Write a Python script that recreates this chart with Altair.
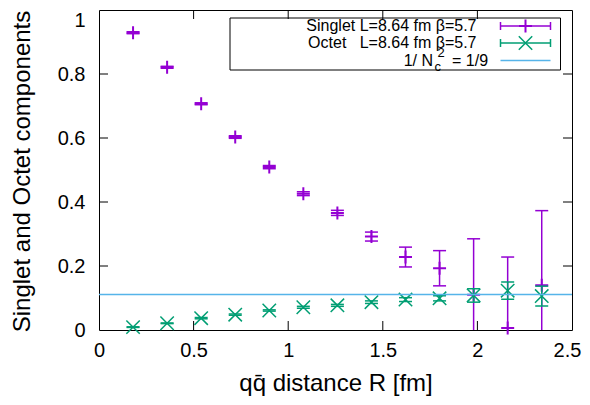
import altair as alt
import pandas as pd

# ---------------- data ----------------
R = [0.18, 0.36, 0.54, 0.72, 0.90, 1.08, 1.26, 1.44, 1.62, 1.80, 1.98, 2.16, 2.34]
singlet = [0.929, 0.821, 0.707, 0.603, 0.509, 0.426, 0.366, 0.292, 0.228, 0.193, 0.11, 0.006, 0.14]
singlet_err = [0.003, 0.003, 0.003, 0.004, 0.005, 0.006, 0.008, 0.014, 0.031, 0.055, 0.175, 0.222, 0.233]
octet = [0.009, 0.021, 0.037, 0.048, 0.061, 0.071, 0.077, 0.087, 0.095, 0.099, 0.108, 0.123, 0.106]
octet_err = [0.001, 0.001, 0.002, 0.002, 0.002, 0.003, 0.003, 0.004, 0.006, 0.008, 0.021, 0.027, 0.031]
x_ticks = [0, 0.5, 1, 1.5, 2, 2.5]
y_ticks = [0, 0.2, 0.4, 0.6, 0.8, 1]
nc_value = 1 / 9

legend_labels = ["Singlet L=8.64 fm \u03b2=5.7", "Octet\u00a0\u00a0 L=8.64 fm \u03b2=5.7"]

# ---------------- style ----------------
FONT = "Liberation Sans"
PURPLE = "#9400D3"
GREEN = "#009E73"
BLUE = "#56B4E9"
W, H = 473, 320
PLUS = "M-1,0L1,0M0,-1L0,1"
CROSS = "M-1,-1L1,1M-1,1L1,-1"

xs = alt.Scale(domain=[0, 2.5], nice=False, zero=False)
ys = alt.Scale(domain=[0, 1], nice=False, zero=False)

df = pd.DataFrame({"R": R, "S": singlet, "Se": singlet_err, "O": octet, "Oe": octet_err})
df["S_lo"] = df["S"] - df["Se"]
df["S_hi"] = df["S"] + df["Se"]
df["O_lo"] = df["O"] - df["Oe"]
df["O_hi"] = df["O"] + df["Oe"]

x_axis = alt.Axis(
    values=x_ticks, format="~g", title="qq\u0304 distance R [fm]",
    titleFont=FONT, titleFontSize=24, titleFontWeight="normal", titleColor="black",
    titleX=W / 2, titleY=60, titleBaseline="alphabetic", titleAlign="center",
    labelFont=FONT, labelFontSize=20, labelColor="black", labelPadding=10,
    labelFlush=False, labelOverlap=False, ticks=False, tickSize=0, domain=False, grid=False,
    labelOffset={"condition": {"test": "datum.value == 2.5", "value": -5}, "value": 0},
)
y_axis = alt.Axis(
    values=y_ticks, format="~g", title="Singlet and Octet components",
    titleFont=FONT, titleFontSize=24, titleFontWeight="normal", titleColor="black",
    titleX=-70, titleY=161, titleBaseline="alphabetic", titleAlign="center",
    labelFont=FONT, labelFontSize=20, labelColor="black", labelPadding=14,
    labelFlush=False, labelOverlap=False, ticks=False, tickSize=0, domain=False, grid=False,
    labelBaseline={"condition": {"test": "datum.value == 1", "value": "top"}, "value": "middle"},
)

base = alt.Chart(df)

# axes carrier (invisible)
axes_layer = base.mark_point(opacity=0).encode(
    x=alt.X("R:Q", scale=xs, axis=x_axis),
    y=alt.Y("S:Q", scale=ys, axis=y_axis),
)


def series(ycol, lo, hi, color, shape, size, sw):
    rule = base.mark_rule(color=color, strokeWidth=1.5, clip=True).encode(
        x=alt.X("R:Q", scale=xs),
        y=alt.Y(f"{lo}:Q", scale=ys),
        y2=f"{hi}:Q",
    )
    cap_lo = base.mark_tick(color=color, orient="horizontal", size=13, thickness=1.5, clip=True, opacity=1).encode(
        x=alt.X("R:Q", scale=xs),
        y=alt.Y(f"{lo}:Q", scale=ys),
    )
    cap_hi = base.mark_tick(color=color, orient="horizontal", size=13, thickness=1.5, clip=True, opacity=1).encode(
        x=alt.X("R:Q", scale=xs),
        y=alt.Y(f"{hi}:Q", scale=ys),
    )
    pts = base.mark_point(shape=shape, size=size, strokeWidth=sw, color=color, filled=False, opacity=1).encode(
        x=alt.X("R:Q", scale=xs),
        y=alt.Y(f"{ycol}:Q", scale=ys),
    )
    return [rule, cap_lo, cap_hi, pts]


singlet_layers = series("S", "S_lo", "S_hi", PURPLE, PLUS, 169, 2)
octet_layers = series("O", "O_lo", "O_hi", GREEN, CROSS, 180, 1.5)

nc_df = pd.DataFrame({"x0": [0.0], "x1": [2.5], "y": [nc_value]})
nc_line = alt.Chart(nc_df).mark_rule(color=BLUE, strokeWidth=1.5).encode(
    x=alt.X("x0:Q", scale=xs), x2="x1:Q",
    y=alt.Y("y:Q", scale=ys),
)

# inward ticks on all four sides
xt = pd.DataFrame({"v": x_ticks[1:-1]})
yt = pd.DataFrame({"v": y_ticks[1:-1]})
TL = 9
tick_layers = [
    alt.Chart(xt).mark_rule(color="black", strokeWidth=1).encode(
        x=alt.X("v:Q", scale=xs), y=alt.value(H), y2=alt.value(H - TL)),
    alt.Chart(xt).mark_rule(color="black", strokeWidth=1).encode(
        x=alt.X("v:Q", scale=xs), y=alt.value(0), y2=alt.value(TL)),
    alt.Chart(yt).mark_rule(color="black", strokeWidth=1).encode(
        y=alt.Y("v:Q", scale=ys), x=alt.value(0), x2=alt.value(TL)),
    alt.Chart(yt).mark_rule(color="black", strokeWidth=1).encode(
        y=alt.Y("v:Q", scale=ys), x=alt.value(W - TL), x2=alt.value(W)),
]

# ---------------- manual key (gnuplot style) ----------------
one = alt.Data(values=[{}])
KX0, KX1, KY0, KY1 = 131, 461.5, 8, 60
ROWS = [16, 33, 50.5]
TXT_R = 377.5
SX0, SX1 = 401.5, 451.5
SXC = (SX0 + SX1) / 2

key = [
    alt.Chart(one).mark_rect(filled=False, stroke="black", strokeWidth=1).encode(
        x=alt.value(KX0), x2=alt.value(KX1), y=alt.value(KY0), y2=alt.value(KY1)),
]
for lbl, yy in zip(legend_labels, ROWS[:2]):
    key.append(alt.Chart(one).mark_text(text=lbl, align="right", baseline="middle", font=FONT,
                                        fontSize=16, color="black").encode(
        x=alt.value(TXT_R), y=alt.value(yy)))

key += [
    alt.Chart(one).mark_text(text="1/ N", align="right", baseline="middle", font=FONT,
                             fontSize=16, color="black").encode(x=alt.value(334), y=alt.value(ROWS[2])),
    alt.Chart(one).mark_text(text="c", align="left", baseline="middle", font=FONT,
                             fontSize=13, color="black").encode(x=alt.value(335.5), y=alt.value(ROWS[2] + 6.5)),
    alt.Chart(one).mark_text(text="2", align="left", baseline="middle", font=FONT,
                             fontSize=13, color="black").encode(x=alt.value(338.5), y=alt.value(ROWS[2] - 7.5)),
    alt.Chart(one).mark_text(text="= 1/9", align="left", baseline="middle", font=FONT,
                             fontSize=16, color="black").encode(x=alt.value(353), y=alt.value(ROWS[2])),
]

for color, yy, shape, size, sw in [(PURPLE, ROWS[0], PLUS, 169, 2), (GREEN, ROWS[1], CROSS, 180, 1.5)]:
    key += [
        alt.Chart(one).mark_rule(color=color, strokeWidth=1.5).encode(
            x=alt.value(SX0), x2=alt.value(SX1), y=alt.value(yy)),
        alt.Chart(one).mark_rule(color=color, strokeWidth=1.5).encode(
            x=alt.value(SX0), y=alt.value(yy - 4), y2=alt.value(yy + 4)),
        alt.Chart(one).mark_rule(color=color, strokeWidth=1.5).encode(
            x=alt.value(SX1), y=alt.value(yy - 4), y2=alt.value(yy + 4)),
        alt.Chart(one).mark_point(shape=shape, size=size, strokeWidth=sw, color=color,
                                  filled=False, opacity=1).encode(
            x=alt.value(SXC), y=alt.value(yy)),
    ]
key.append(alt.Chart(one).mark_rule(color=BLUE, strokeWidth=1.5).encode(
    x=alt.value(SX0), x2=alt.value(SX1), y=alt.value(ROWS[2])))

chart = alt.layer(
    axes_layer, *tick_layers, *singlet_layers, *octet_layers, nc_line, *key
).properties(
    width=W, height=H,
    autosize=alt.AutoSizeParams(type="none"),
    padding={"left": 91, "top": 2, "right": 10, "bottom": 67},
    background="white",
).configure_view(stroke="black", strokeWidth=1)

chart.save("out.html", embed_options={"renderer": "svg", "actions": False})
